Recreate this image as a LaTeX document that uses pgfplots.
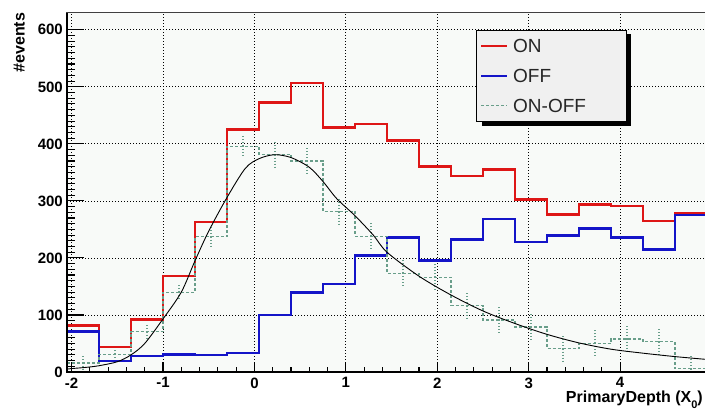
\documentclass[border=0pt]{standalone}
\usepackage{fontspec}
\setmainfont{Liberation Sans}
\usepackage{pgfplots}
\pgfplotsset{compat=1.18}

\definecolor{onred}{RGB}{222,22,22}
\definecolor{offblue}{RGB}{20,20,200}
\definecolor{diffgreen}{RGB}{105,158,138}
\definecolor{plotbg}{RGB}{248,250,248}
\definecolor{legbg}{RGB}{240,240,240}

\begin{document}
\begin{tikzpicture}
  \begin{axis}[
    scale only axis,
    width=640pt, height=359.3pt,
    at={(0,0)}, anchor=south west,
    xmin=-2.05, xmax=4.95,
    ymin=0, ymax=630,
    xtick={-2,...,4},
    ytick={0,100,...,600},
    minor x tick num=4,
    minor y tick num=9,
    tick pos=left,
    tick align=inside,
    xtick style={/pgfplots/major tick length=10pt, /pgfplots/minor tick length=5pt, line width=1.1pt, black},
    ytick style={/pgfplots/major tick length=17pt, /pgfplots/minor tick length=8pt, line width=1.1pt, black},
    grid=major,
    major grid style={black, line width=0.8pt, dash pattern=on 0.9pt off 2.1pt},
    axis background/.style={fill=plotbg},
    axis line style={line width=1.1pt, black!75},
    /pgf/number format/assume math mode=true,
    ticklabel style={font=\bfseries\fontsize{15}{15}\selectfont},
    yticklabel style={inner xsep=1pt, xshift=-3pt},
    xticklabel style={yshift=-2pt},
  ]
    % ON
    \addplot[const plot, onred, line width=2.6pt] coordinates {
      (-2.05,82) (-1.70,44) (-1.35,92) (-1.00,168) (-0.65,263) (-0.30,425)
      (0.05,473) (0.40,507) (0.75,429) (1.10,435) (1.45,406) (1.80,360)
      (2.15,344) (2.50,355) (2.85,302) (3.20,276) (3.55,294) (3.90,291)
      (4.25,265) (4.60,279) (4.95,279)
    };
    % OFF
    \addplot[const plot, offblue, line width=2.6pt] coordinates {
      (-2.05,71) (-1.70,19) (-1.35,28) (-1.00,31) (-0.65,30) (-0.30,33)
      (0.05,100) (0.40,139) (0.75,154) (1.10,204) (1.45,236) (1.80,195)
      (2.15,232) (2.50,268) (2.85,228) (3.20,239) (3.55,252) (3.90,236)
      (4.25,215) (4.60,275) (4.95,275)
    };
    % ON-OFF
    \addplot[const plot, diffgreen, line width=1.3pt, dash pattern=on 3pt off 2pt] coordinates {
      (-2.05,16) (-1.70,31) (-1.35,71) (-1.00,140) (-0.65,237) (-0.30,396)
      (0.05,381) (0.40,370) (0.75,281) (1.10,238) (1.45,173) (1.80,166)
      (2.15,116) (2.50,91) (2.85,79) (3.20,41) (3.55,50) (3.90,58)
      (4.25,53) (4.60,6) (4.95,6)
    };
    \addplot[draw=none, mark=none,
      error bars/.cd, y dir=both, y explicit, error mark=none,
      error bar style={diffgreen, line width=1.2pt, dash pattern=on 1pt off 2pt}]
    coordinates {
      (-1.875,16) +- (0,12) (-1.525,31) +- (0,8) (-1.175,71) +- (0,11)
      (-0.825,140) +- (0,14) (-0.475,237) +- (0,17) (-0.125,396) +- (0,21)
      (0.225,381) +- (0,24) (0.575,370) +- (0,25) (0.925,281) +- (0,24)
      (1.275,238) +- (0,25) (1.625,173) +- (0,25) (1.975,166) +- (0,24)
      (2.325,116) +- (0,24) (2.675,91) +- (0,25) (3.025,79) +- (0,23)
      (3.375,41) +- (0,23) (3.725,50) +- (0,23) (4.075,58) +- (0,23)
      (4.425,53) +- (0,22) (4.775,6) +- (0,24)
    };
    % fit
    \addplot[black, line width=0.9pt, smooth] coordinates {
      (-2.05,5) (-2.0,6) (-1.85,8) (-1.7,11) (-1.5,18) (-1.35,30) (-1.2,50)
      (-1.0,93) (-0.8,140) (-0.65,195) (-0.5,247) (-0.3,306) (-0.1,357)
      (0.05,374) (0.22,381) (0.4,376) (0.6,359) (0.75,334) (0.9,304)
      (1.1,274) (1.3,240) (1.45,210) (1.8,168) (2.15,135) (2.5,107)
      (2.85,85) (3.2,66) (3.55,51) (3.9,40) (4.25,33) (4.6,27) (4.95,22)
    };
  \end{axis}
  % frame, left and bottom
  \draw[line width=2pt, black] (0pt,359.3pt) -- (0pt,0pt) -- (640pt,0pt);
  % legend
  \fill[black] (414.7pt,246.3pt) rectangle (564pt,338pt);
  \filldraw[fill=legbg, draw=black, line width=0.8pt] (409.7pt,250.3pt) rectangle (559pt,342pt);
  \draw[onred, line width=2.2pt] (414pt,326.3pt) -- (439.7pt,326.3pt);
  \draw[offblue, line width=2.2pt] (414pt,296.3pt) -- (439.7pt,296.3pt);
  \draw[diffgreen, line width=1.3pt, dash pattern=on 3pt off 2pt] (414pt,266.3pt) -- (439.7pt,266.3pt);
  \begin{scope}[every node/.style={anchor=west, inner sep=0pt, text=black!85,
      font=\fontsize{19}{19}\selectfont}]
    \node at (446pt,326.3pt) {ON};
    \node at (446pt,296.3pt) {OFF};
    \node at (446pt,266.3pt) {ON-OFF};
  \end{scope}
  % axis titles
  \node[rotate=90, anchor=south east, inner sep=0pt,
    font=\bfseries\fontsize{16}{16}\selectfont] at (-42pt,359.3pt) {\#events};
  \node[anchor=base east, inner sep=0pt,
    font=\bfseries\fontsize{16}{16}\selectfont] at (636pt,-31pt)
    {PrimaryDepth (X\raisebox{-0.35em}{\fontsize{11}{11}\selectfont 0})};
  \pgfresetboundingbox
  \path (-67pt,-40pt) rectangle (638pt,372pt);
\end{tikzpicture}
\end{document}
